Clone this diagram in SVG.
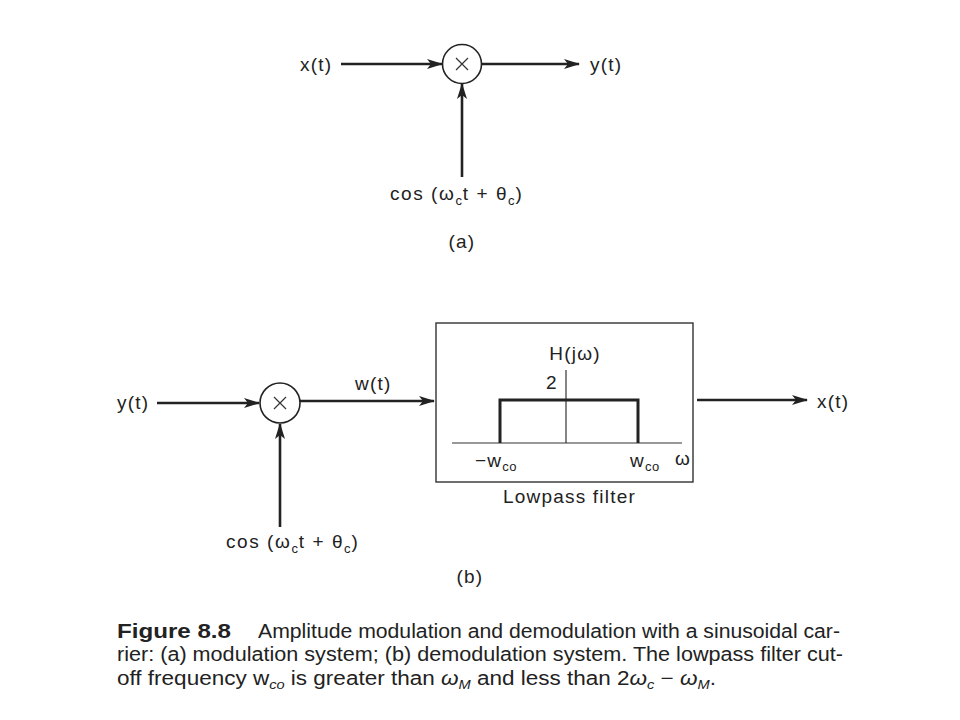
<svg xmlns="http://www.w3.org/2000/svg" width="960" height="720" viewBox="0 0 960 720">
<defs>
<style>
.t{font-family:"Liberation Sans",Arial,sans-serif;font-size:19px;letter-spacing:1.2px;fill:#222}
.sub{font-size:13px;letter-spacing:0.5px}
.ln{stroke:#222;stroke-width:2.6;fill:none}
.thin{stroke:#333;stroke-width:1.2;fill:none}
.cap{font-family:"Liberation Sans",Arial,sans-serif;font-size:20px;fill:#222}
</style>
<marker id="ah" markerWidth="16" markerHeight="10" refX="15" refY="5" orient="auto" markerUnits="userSpaceOnUse">
<path d="M0,0 L16,5 L0,10 L4,5 Z" fill="#222"/>
</marker>
</defs>
<rect width="960" height="720" fill="#fff"/>

<g id="connectors">
<line class="ln" x1="341" y1="64" x2="442" y2="64" marker-end="url(#ah)"/>
<line class="ln" x1="482" y1="64" x2="579" y2="64" marker-end="url(#ah)"/>
<line class="ln" x1="462" y1="177" x2="462" y2="84" marker-end="url(#ah)"/>
<line class="ln" x1="157" y1="403" x2="259" y2="403" marker-end="url(#ah)"/>
<line class="ln" x1="300" y1="401" x2="434" y2="401" marker-end="url(#ah)"/>
<line class="ln" x1="280" y1="527" x2="280" y2="424" marker-end="url(#ah)"/>
<line class="ln" x1="697" y1="400" x2="807" y2="400" marker-end="url(#ah)"/>
</g>

<g id="mult-a">
<circle cx="462" cy="64" r="19.5" fill="none" stroke="#222" stroke-width="1.6"/>
<path d="M456,58 L468,70 M468,58 L456,70" stroke="#333" stroke-width="1.2"/>
</g>
<g id="label-xt-a"><text class="t" x="300" y="71">x(t)</text></g>
<g id="label-yt-a"><text class="t" x="590" y="71">y(t)</text></g>
<g id="label-cos-a"><text class="t" x="390" y="200" textLength="133" lengthAdjust="spacing">cos (ω<tspan class="sub" dy="5">c</tspan><tspan dy="-5">t + θ</tspan><tspan class="sub" dy="5">c</tspan><tspan dy="-5">)</tspan></text></g>
<g id="label-a"><text class="t" x="462" y="248" text-anchor="middle">(a)</text></g>

<g id="mult-b">
<circle cx="280" cy="403" r="20" fill="none" stroke="#222" stroke-width="1.6"/>
<path d="M274,397 L286,409 M286,397 L274,409" stroke="#333" stroke-width="1.2"/>
</g>
<g id="label-yt-b"><text class="t" x="117" y="409">y(t)</text></g>
<g id="label-wt"><text class="t" x="355" y="390">w(t)</text></g>
<g id="label-cos-b"><text class="t" x="226" y="548" textLength="133" lengthAdjust="spacing">cos (ω<tspan class="sub" dy="5">c</tspan><tspan dy="-5">t + θ</tspan><tspan class="sub" dy="5">c</tspan><tspan dy="-5">)</tspan></text></g>

<g id="filter">
<rect x="436" y="323" width="257" height="159" fill="none" stroke="#333" stroke-width="1.4"/>
<text class="t" x="575" y="360" text-anchor="middle">H(jω)</text>
<line class="thin" x1="566" y1="370" x2="566" y2="443"/>
<line class="thin" x1="452" y1="443" x2="682" y2="443"/>
<path d="M500,443 L500,400 L638,400 L638,443" stroke="#222" stroke-width="3" fill="none"/>
<text class="t" x="546" y="389">2</text>
<text class="t" x="475" y="467">−w<tspan class="sub" dy="4">co</tspan></text>
<text class="t" x="630" y="467">w<tspan class="sub" dy="4">co</tspan></text>
<text class="t" x="675" y="465">ω</text>
<text class="t" x="503" y="503">Lowpass filter</text>
</g>
<g id="label-xt-b"><text class="t" x="817" y="408">x(t)</text></g>
<g id="label-b"><text class="t" x="470" y="583" text-anchor="middle">(b)</text></g>

<g id="caption">
<text class="cap" x="117" y="638" font-weight="bold" textLength="114" lengthAdjust="spacingAndGlyphs">Figure 8.8</text>
<text class="cap" x="258" y="638" textLength="582" lengthAdjust="spacingAndGlyphs">Amplitude modulation and demodulation with a sinusoidal car-</text>
<text class="cap" x="117" y="661" textLength="726" lengthAdjust="spacingAndGlyphs">rier: (a) modulation system; (b) demodulation system. The lowpass filter cut-</text>
<text class="cap" x="117" y="685" textLength="599" lengthAdjust="spacingAndGlyphs">off frequency w<tspan font-size="13" font-style="italic" dy="4">co</tspan><tspan dy="-4"> is greater than </tspan><tspan font-style="italic">ω</tspan><tspan font-size="13" font-style="italic" dy="4">M</tspan><tspan dy="-4"> and less than 2</tspan><tspan font-style="italic">ω</tspan><tspan font-size="13" font-style="italic" dy="4">c</tspan><tspan dy="-4"> − </tspan><tspan font-style="italic">ω</tspan><tspan font-size="13" font-style="italic" dy="4">M</tspan><tspan dy="-4">.</tspan></text>
</g>
</svg>
